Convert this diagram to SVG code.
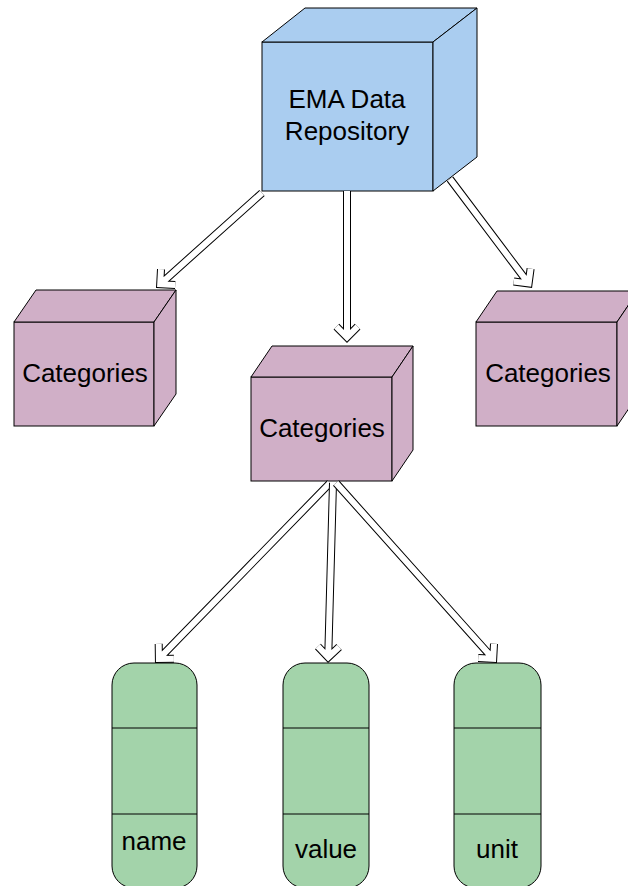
<svg xmlns="http://www.w3.org/2000/svg" xmlns:xlink="http://www.w3.org/1999/xlink" width="628" height="886" viewBox="0 0 628 886">
  <style>
    .label { font-family: "Liberation Sans", Arial, sans-serif; font-size: 26px; fill: #000; text-anchor: middle; }
    .blue { fill: #aacdf0; stroke: #000; stroke-width: 1; stroke-linejoin: miter; }
    .purple { fill: #d0afc7; stroke: #000; stroke-width: 1; stroke-linejoin: miter; }
    .green { fill: #a3d3aa; stroke: #000; stroke-width: 1; }
    .divider { stroke: #000; stroke-width: 1; fill: none; }
    .ao { fill: none; stroke: #000; stroke-width: 8; stroke-linecap: butt; stroke-linejoin: miter; }
    .ai { fill: none; stroke: #fff; stroke-width: 6; stroke-linecap: butt; stroke-linejoin: miter; }
  </style>
  <defs>
    <!-- hollow arrow outlines: shaft + open chevron head -->
    <path id="a1" d="M262 193 L160.2 284.2 M175.2 285 L160.2 284.2 L161 269.2"/>
    <path id="a2" d="M347 191 L347 337.3 M357.6 326.7 L347 337.3 L336.4 326.7"/>
    <path id="a3" d="M450 179 L528.6 283.5 M530.6 268.6 L528.6 283.5 L513.7 281.5"/>
    <path id="a4" d="M330 483 L158.9 658.9 M173.9 658.7 L158.9 658.9 L158.7 643.9"/>
    <path id="a5" d="M333 483 L328.2 657.3 M339.1 647 L328.2 657.3 L317.9 646.4"/>
    <path id="a6" d="M336 483 L493.2 658.8 M494 643.8 L493.2 658.8 L478.2 658"/>
  </defs>

  <!-- repository cube -->
  <g id="repository">
    <rect class="blue" x="262" y="42" width="171" height="149"/>
    <polygon class="blue" points="262,42 305,8 477,8 433,42"/>
    <polygon class="blue" points="433,42 477,8 477,157 433,191"/>
    <text class="label" x="347" y="108">EMA Data</text>
    <text class="label" x="347" y="140">Repository</text>
  </g>

  <!-- category cubes -->
  <g id="categories-left">
    <rect class="purple" x="14" y="322" width="140" height="104"/>
    <polygon class="purple" points="14,322 36,290 176,290 154,322"/>
    <polygon class="purple" points="154,322 176,290 176,394 154,426"/>
    <text class="label" x="85" y="382">Categories</text>
  </g>
  <g id="categories-middle">
    <rect class="purple" x="251" y="377" width="141" height="104"/>
    <polygon class="purple" points="251,377 272,346 413,346 392,377"/>
    <polygon class="purple" points="392,377 413,346 413,450 392,481"/>
    <text class="label" x="322" y="437">Categories</text>
  </g>
  <g id="categories-right">
    <rect class="purple" x="476" y="322" width="141" height="104"/>
    <polygon class="purple" points="476,322 497,291 638,291 617,322"/>
    <polygon class="purple" points="617,322 638,291 638,395 617,426"/>
    <text class="label" x="548" y="382">Categories</text>
  </g>

  <!-- attribute records -->
  <g id="name">
    <rect class="green" x="112" y="663" width="85" height="225" rx="22" ry="22"/>
    <line class="divider" x1="112" y1="728" x2="197" y2="728"/>
    <line class="divider" x1="112" y1="814" x2="197" y2="814"/>
    <text class="label" x="154" y="850">name</text>
  </g>
  <g id="value">
    <rect class="green" x="283" y="663" width="86" height="225" rx="22" ry="22"/>
    <line class="divider" x1="283" y1="728" x2="369" y2="728"/>
    <line class="divider" x1="283" y1="814" x2="369" y2="814"/>
    <text class="label" x="326" y="858">value</text>
  </g>
  <g id="unit">
    <rect class="green" x="454" y="663" width="87" height="225" rx="22" ry="22"/>
    <line class="divider" x1="454" y1="728" x2="541" y2="728"/>
    <line class="divider" x1="454" y1="814" x2="541" y2="814"/>
    <text class="label" x="497" y="858">unit</text>
  </g>

  <!-- connectors -->
  <g id="connectors">
    <use xlink:href="#a1" class="ao"/><use xlink:href="#a1" class="ai"/>
    <use xlink:href="#a2" class="ao"/><use xlink:href="#a2" class="ai"/>
    <use xlink:href="#a3" class="ao"/><use xlink:href="#a3" class="ai"/>
    <use xlink:href="#a4" class="ao"/><use xlink:href="#a4" class="ai"/>
    <use xlink:href="#a5" class="ao"/><use xlink:href="#a5" class="ai"/>
    <use xlink:href="#a6" class="ao"/><use xlink:href="#a6" class="ai"/>
  </g>
</svg>
